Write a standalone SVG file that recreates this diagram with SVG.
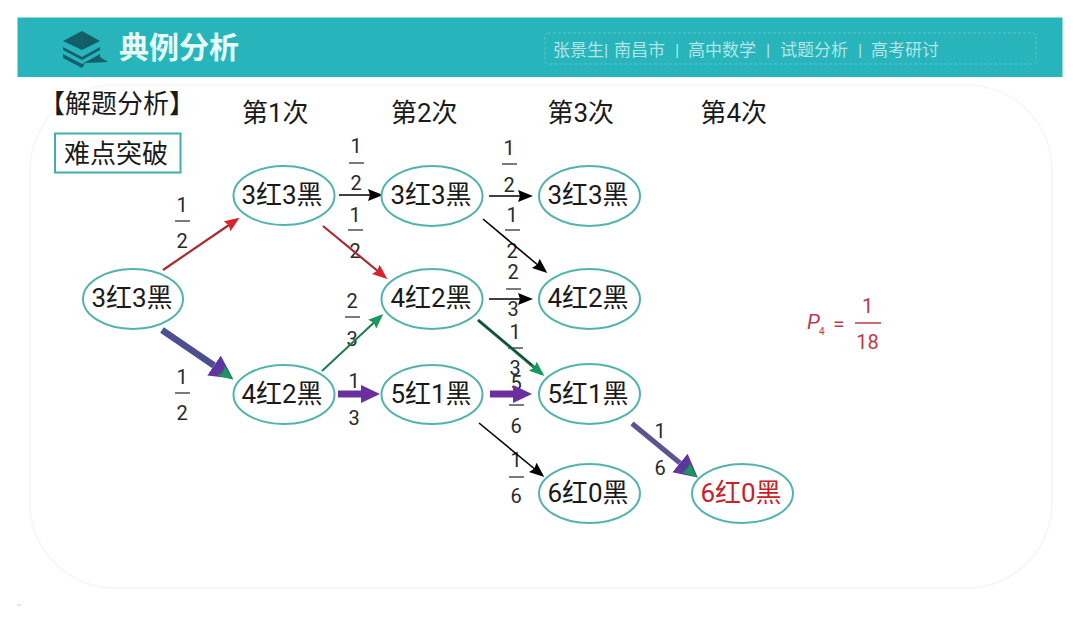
<svg xmlns="http://www.w3.org/2000/svg" width="1080" height="623" viewBox="0 0 1080 623">
<style>
text{font-family:"Roboto","Noto Sans CJK SC",sans-serif;fill:#1a1a1a}
.n ellipse{fill:#fff;stroke:#52b3ae;stroke-width:2}
.n text{font-size:26px;text-anchor:middle}
.h{font-size:26px}
.f{font-size:20px;text-anchor:middle;fill:#2a2a2a}
.b{stroke:#333;stroke-width:1.3}
.s{font-size:17px;fill:#b4e4e5}
.p{fill:#bd3a4a}
.k{stroke:#000;stroke-width:1.6;fill:none;marker-end:url(#mk)}
.r{stroke:#a92a30;stroke-width:2.200;fill:none;marker-end:url(#mr)}
.g{stroke:#1f7a50;stroke-width:2;fill:none;marker-end:url(#mg)}
</style>
<defs>
<marker id="mk" markerUnits="userSpaceOnUse" markerWidth="16" markerHeight="13" refX="12" refY="6" orient="auto"><path d="M0,0L15,6L0,12L2,6Z" fill="#000"/></marker>
<marker id="mr" markerUnits="userSpaceOnUse" markerWidth="16" markerHeight="13" refX="12" refY="6" orient="auto"><path d="M0,0L15,6L0,12L2,6Z" fill="#d9222a"/></marker>
<marker id="mg" markerUnits="userSpaceOnUse" markerWidth="16" markerHeight="13" refX="12" refY="6" orient="auto"><path d="M0,0L15,6L0,12L2,6Z" fill="#16995a"/></marker>
<marker id="mp" markerUnits="userSpaceOnUse" markerWidth="22" markerHeight="20" refX="0" refY="9" orient="auto"><path d="M0,0L19,9L0,18Z" fill="#6b2fa0"/></marker>
<marker id="mq" markerUnits="userSpaceOnUse" markerWidth="26" markerHeight="26" refX="0" refY="12" orient="auto"><path d="M0,0L23,12L0,24Z" fill="#5f35a0"/></marker>
</defs>

<rect width="1080" height="623" fill="#fff"/>
<rect x="30" y="85" width="1022" height="503" rx="85" fill="#fff" stroke="#f6f6f6" stroke-width="1.500"/>
<rect x="17.500" y="17.500" width="1045" height="59.500" fill="#27b5bb"/>
<rect x="545" y="33" width="491" height="31" rx="3" fill="none" stroke="#5cc6ca" stroke-width="1" stroke-dasharray="3 2"/>
<g fill="#125f68">
<path d="M82,31L100,41L82,50L63,41Z"/>
<path d="M63,47L82,57L100,47L100,50L82,60L63,50Z"/>
<path d="M63,54L82,64L100,54L100,57L108,62L85,63L82,68L63,58Z"/>
</g>
<text x="119" y="58" font-size="30" font-weight="700" style="fill:#e6fbf7">典例分析</text>
<text class="s" x="553" y="56">张景生|</text>
<text class="s" x="614" y="56">南昌市</text>
<text class="s" x="675" y="56">|</text>
<text class="s" x="688" y="56">高中数学</text>
<text class="s" x="766" y="56">|</text>
<text class="s" x="780" y="56">试题分析</text>
<text class="s" x="858" y="56">|</text>
<text class="s" x="871" y="56">高考研讨</text>

<text class="h" x="39" y="113">【解题分析】</text>
<g id="tag"><rect x="55" y="133.500" width="125.500" height="39" fill="#fff" stroke="#3fb0ae" stroke-width="2"/>
<text class="h" x="64" y="163">难点突破</text></g>
<text class="h" x="242" y="122">第1次</text>
<text class="h" x="391" y="122">第2次</text>
<text class="h" x="547.500" y="122">第3次</text>
<text class="h" x="700.500" y="122">第4次</text>

<g id="labels">
<g><text class="f" x="182" y="212">1</text><path class="b" d="M175,221H190"/><text class="f" x="182" y="248">2</text></g>
<g><text class="f" x="182" y="384">1</text><path class="b" d="M175,393H190"/><text class="f" x="182" y="420">2</text></g>
<g><text class="f" x="356" y="153">1</text><path class="b" d="M349,163H364"/><text class="f" x="356" y="190">2</text></g>
<g><text class="f" x="355" y="222">1</text><path class="b" d="M348,230H363"/><text class="f" x="355" y="258">2</text></g>
<g><text class="f" x="352" y="308">2</text><path class="b" d="M345,317H360"/><text class="f" x="352" y="346">3</text></g>
<g><text class="f" x="354" y="388">1</text><text class="f" x="354" y="425">3</text></g>
<g><text class="f" x="509" y="155">1</text><path class="b" d="M502,164H517"/><text class="f" x="509" y="192">2</text></g>
<g><text class="f" x="512" y="222">1</text><path class="b" d="M505,230H520"/><text class="f" x="512" y="258">2</text></g>
<g><text class="f" x="513" y="279">2</text><path class="b" d="M506,289H521"/><text class="f" x="513" y="316">3</text></g>
<g><text class="f" x="515" y="339">1</text><path class="b" d="M508,348H523"/><text class="f" x="515" y="375">3</text></g>
<g><text class="f" x="516" y="390">5</text><path class="b" d="M509,405H524"/><text class="f" x="516" y="433">6</text></g>
<g><text class="f" x="516" y="467">1</text><path class="b" d="M509,477H524"/><text class="f" x="516" y="503">6</text></g>
<g><text class="f" x="660" y="438">1</text><text class="f" x="660" y="475">6</text></g>
</g>

<g id="connectors">
<path class="r" d="M163,270L237,219.500"/>
<path class="r" d="M323,226L385,277"/>
<path class="g" d="M322,371L381,316"/>
<path class="k" d="M339,195H380"/>
<path class="k" d="M489,196H530"/>
<path class="k" d="M483,219L545,271"/>
<path class="k" d="M489,299H530"/>
<path class="g" d="M478,320L542,374" style="stroke-width:3"/>
<path d="M478,320L532,365" stroke="#1c3a2a" stroke-width="1.300"/>
<path class="k" d="M479,423L542,475"/>
<path d="M338,394H361" stroke="#6b2fa0" stroke-width="7" marker-end="url(#mp)"/>
<path d="M490,394H513" stroke="#6b2fa0" stroke-width="7" marker-end="url(#mp)"/>
<path d="M162,330L214,365.500" stroke="#4b4f8f" stroke-width="6.500" marker-end="url(#mq)"/>
<path class="g" d="M222,371.500L231,378"/>
<path d="M632,423.500L680,463" stroke="#5a5490" stroke-width="5" marker-end="url(#mq)"/>
<path class="g" d="M686,468L695,475.500"/>
</g>

<g id="n1" class="n"><ellipse cx="133" cy="299" rx="50" ry="30"/><text x="132" y="307">3红3黑</text></g>
<g id="n2" class="n"><ellipse cx="284" cy="195.500" rx="50.500" ry="29.500"/><text x="282" y="204">3红3黑</text></g>
<g id="n3" class="n"><ellipse cx="284" cy="394.500" rx="50.500" ry="29.500"/><text x="282" y="403">4红2黑</text></g>
<g id="n4" class="n"><ellipse cx="432" cy="196" rx="50.500" ry="30"/><text x="431" y="204">3红3黑</text></g>
<g id="n5" class="n"><ellipse cx="432" cy="299" rx="50.500" ry="30"/><text x="431" y="307">4红2黑</text></g>
<g id="n6" class="n"><ellipse cx="432" cy="394.500" rx="50.500" ry="29.500"/><text x="431" y="403">5红1黑</text></g>
<g id="n7" class="n"><ellipse cx="589.500" cy="196" rx="50.500" ry="30"/><text x="588" y="204">3红3黑</text></g>
<g id="n8" class="n"><ellipse cx="589.500" cy="299" rx="50.500" ry="30"/><text x="588" y="307">4红2黑</text></g>
<g id="n9" class="n"><ellipse cx="589.500" cy="394" rx="50.500" ry="30"/><text x="588" y="403">5红1黑</text></g>
<g id="n10" class="n"><ellipse cx="589.500" cy="493.500" rx="50.500" ry="29.500"/><text x="588" y="502">6红0黑</text></g>
<g id="n11" class="n"><ellipse cx="742.500" cy="493.500" rx="50.500" ry="29.500"/><text x="741" y="502" style="fill:#c4232b">6红0黑</text></g>

<g id="formula">
<text class="p" x="807" y="329" font-size="21" font-style="italic">P</text>
<text class="p" x="819" y="335" font-size="10">4</text>
<text class="p" x="833" y="331" font-size="21">=</text>
<path d="M855,323H881" stroke="#bd3a4a" stroke-width="1.500"/>
<text class="p" x="867.500" y="313" font-size="20" text-anchor="middle">1</text>
<text class="p" x="867.500" y="349" font-size="20" text-anchor="middle">18</text>
</g>
<path d="M17,605H21" stroke="#ccc" stroke-width="1"/>
</svg>
